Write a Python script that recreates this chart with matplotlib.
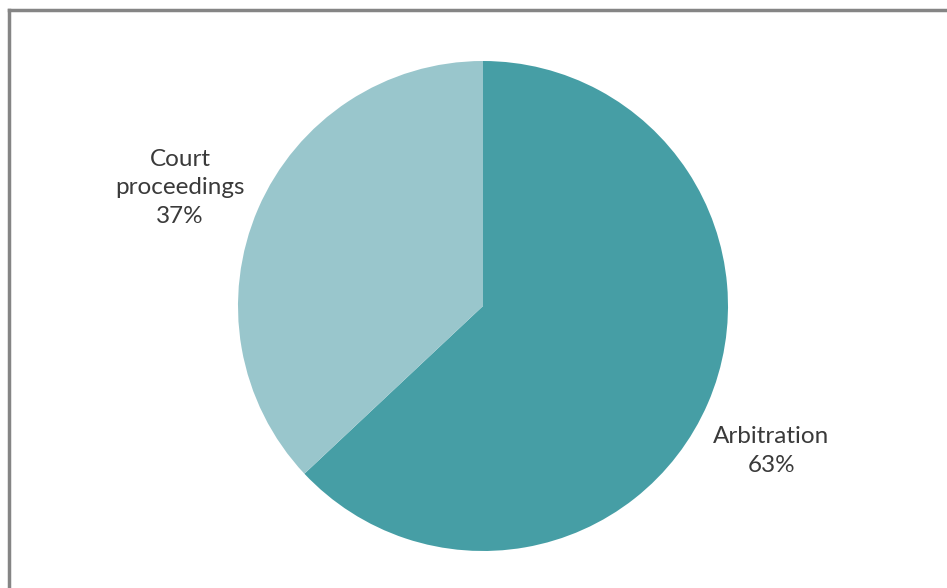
import matplotlib.pyplot as plt
from matplotlib.lines import Line2D

categories = ['Arbitration', 'Court\nproceedings']
shares = [63, 37]
colors = ['#469ea5', '#99c6cc']

W, H = 947, 588
fig = plt.figure(figsize=(W / 100, H / 100), dpi=100)

# pie centre (483, 306) px, radius 245 px
cx, cy, r = 483, 306, 245
ax = fig.add_axes([(cx - r) / W, (H - cy - r) / H, 2 * r / W, 2 * r / H])
ax.pie(shares, colors=colors, startangle=90, counterclock=False,
       wedgeprops=dict(linewidth=0))
ax.set_xlim(-1, 1)
ax.set_ylim(-1, 1)
ax.set_aspect('equal')
ax.axis('off')

label_pos = [(1.176, -0.592), (-1.237, 0.482)]
for cat, val, (lx, ly) in zip(categories, shares, label_pos):
    ax.text(lx, ly, f'{cat}\n{val}%', ha='center', va='center',
            fontsize=17.5, family='Lato', color='#3a3a3a', linespacing=1.45)

# grey frame on top and left edge
fig.add_artist(Line2D([9 / W, 1], [1 - 10 / H, 1 - 10 / H], color='#858585', lw=2.5,
                      transform=fig.transFigure))
fig.add_artist(Line2D([9 / W, 9 / W], [0, 1 - 10 / H], color='#858585', lw=2.5,
                      transform=fig.transFigure))

fig.savefig('out.png', dpi=100)
